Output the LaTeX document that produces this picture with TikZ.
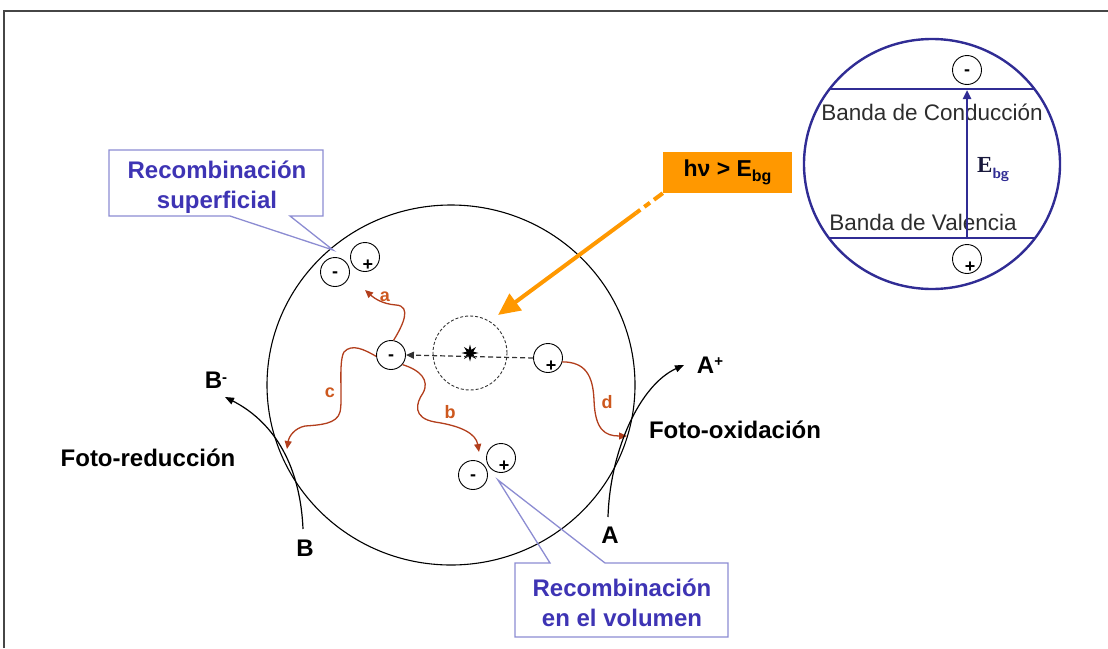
\documentclass[tikz,border=0pt]{standalone}
\usepackage{fontspec}
\setmainfont{Liberation Sans}
\newfontfamily\timesbf{Liberation Serif}
\usetikzlibrary{arrows.meta,shapes.geometric}
\definecolor{bandblue}{RGB}{48,44,148}
\definecolor{calloutline}{RGB}{140,140,210}
\definecolor{callouttext}{RGB}{62,52,180}
\definecolor{pathred}{RGB}{178,62,28}
\definecolor{labelred}{RGB}{205,88,30}
\definecolor{photon}{RGB}{255,152,0}
\definecolor{framegray}{RGB}{70,70,70}
\definecolor{bandtext}{RGB}{45,45,45}
\definecolor{egap}{RGB}{25,25,60}
\newcommand{\fsz}[1]{\fontsize{#1}{#1}\selectfont}
\begin{document}
\begin{tikzpicture}[x=1pt,y=-1pt,
  chg/.style={circle,draw=black,line width=0.9pt,minimum size=29pt,inner sep=0pt},
  chgsign/.style={font=\bfseries\fsz{18},inner sep=0pt},
  elec/.style={chg,label={[chgsign,yshift=-3pt]center:-}},
  hole/.style={chg,label={[chgsign,xshift=3pt,yshift=-8pt]center:+}},
  bold24/.style={font=\bfseries\fsz{24},inner sep=0pt},
  callout/.style={draw=calloutline,line width=1.3pt,line join=miter},
  callouttxt/.style={font=\bfseries\fontsize{24}{30}\selectfont,text=callouttext,align=center,inner sep=0pt},
  wiggle/.style={draw=pathred,line width=1.3pt,-{Triangle[length=8pt,width=7pt]}},
  pathlabel/.style={font=\bfseries\fsz{18},text=labelred,inner sep=0pt},
  reaction/.style={draw=black,line width=1.2pt,-{Triangle[length=9pt,width=7pt]}},
  bandline/.style={draw=bandblue,line width=2.4pt},
]
\useasboundingbox (0,0) rectangle (1108,648);

% outer frame
\draw[framegray,line width=1.6pt] (4,648) -- (4,11) -- (1108,11);

% semiconductor particle
\draw[line width=1.1pt] (451,385) ellipse[x radius=184pt, y radius=180pt];
\draw[line width=0.9pt, dash pattern=on 3pt off 2pt, black!80] (470,353) circle[radius=37pt];
\node[star, star points=8, star point ratio=2.4, fill=black, minimum size=17pt, inner sep=0pt] (ex) at (470,353) {};

% charge carriers
\node[elec] (e1) at (391,355) {};
\node[hole] (h1) at (548,358) {};
\node[elec] (es) at (335,272) {};
\node[hole] (hs) at (365,257) {};
\node[elec] (ev) at (473,475) {};
\node[hole] (hvol) at (501,458) {};

% charge separation
\draw[dash pattern=on 5pt off 3pt, line width=1.2pt, black!80, -{Triangle[length=8pt,width=7pt]}] (h1.west) -- (e1.east);

% carrier pathways
\coordinate (ta) at (365,290);
\coordinate (tb) at (479,452);
\coordinate (tc) at (287,449);
\coordinate (td) at (627,436);
\draw[wiggle] (e1.80) .. controls (403,325) and (412,306) .. (396,305) .. controls (382,304) and (374,298) .. (ta);
\draw[wiggle] (e1.-40) .. controls (420,370) and (430,380) .. (423,393) .. controls (416,403) and (412,418) .. (435,422) .. controls (462,426) and (476,434) .. (tb);
\draw[wiggle] (e1.185) .. controls (365,350) and (352,343) .. (344,352) .. controls (338,362) and (343,400) .. (340,412) .. controls (337,424) and (320,425) .. (305,426) .. controls (295,428) and (289,436) .. (tc);
\draw[wiggle] (h1.-15) .. controls (585,362) and (593,375) .. (594,400) .. controls (595,430) and (605,436) .. (td);
\node[pathlabel] (la) at (385,297) {a};
\node[pathlabel] (lb) at (450,412) {b};
\node[pathlabel] (lc) at (330,393) {c};
\node[pathlabel] (ld) at (607,402) {d};

% surface reactions
\node[bold24] (B) at (305,548) {B};
\node[bold24] (Bm) at (216,380) {B\raisebox{6pt}{\fsz{15}-}};
\node[bold24] (A) at (610,535) {A};
\node[bold24] (Ap) at (710,365) {A\raisebox{7pt}{\fsz{15}+}};
\coordinate (bin) at (303,529);
\coordinate (bout) at (225,397);
\coordinate (ain) at (608,517);
\coordinate (aout) at (684,365);
\draw[reaction] (bin) .. controls (300,460) and (270,420) .. (bout);
\draw[reaction] (ain) .. controls (610,450) and (640,385) .. (aout);
\node[bold24] (fred) at (148,458) {Foto-reducción};
\node[bold24] (fox) at (735,430) {Foto-oxidación};

% callouts
\draw[callout] (290,216) -- (323,216) -- (323,150) -- (109,150) -- (109,216) -- (230,216) -- (333,250) -- cycle;
\node[callouttxt] (rsup) at (217,187) {Recombinación\\superficial};
\draw[callout] (550,563) -- (515,563) -- (515,637) -- (728,637) -- (728,563) -- (605,563) -- (498,480) -- cycle;
\node[callouttxt] (rvol) at (622,603) {Recombinación\\en el volumen};

% incident photon
\node[fill=photon, minimum width=129pt, minimum height=41pt, inner sep=0pt, font=\bfseries\fsz{23}] (hvbox) at (727.5,172.5) {hν > E\raisebox{-5pt}{\fsz{16}bg}};
\coordinate (ph1) at (636,213);
\coordinate (phtip) at (498,315);
\draw[photon, line width=4pt, dash pattern=on 11pt off 5pt on 7pt off 5pt] (hvbox.south west) -- (ph1);
\draw[photon, line width=4pt, -{Triangle[length=22pt,width=20pt]}] (ph1) -- (phtip);

% band diagram
\draw[bandline] (932,164) ellipse[x radius=128pt, y radius=125pt];
\coordinate (vb) at (967,238);
\coordinate (cb) at (967,90);
\draw[bandline] (830,89) -- (1034,89);
\draw[bandline] (829,238) -- (1035,238);
\node[font=\fsz{22.5}, text=bandtext, inner sep=0pt] (tcb) at (932,112) {Banda de Conducción};
\node[font=\fsz{22.5}, text=bandtext, inner sep=0pt] (tvb) at (923,222) {Banda de Valencia};
\draw[bandline, -{Triangle[length=9pt,width=8pt]}] (vb) -- (cb);
\node[anchor=base west, inner sep=0pt, text=egap] (ebg) at (977,172) {\timesbf\bfseries\fsz{23}E\raisebox{-6pt}{\sffamily\bfseries\fsz{15}\color{bandblue}bg}};
\node[elec] (ecb) at (967,70) {};
\node[hole] (hvb) at (967,259) {};
\end{tikzpicture}
\end{document}
